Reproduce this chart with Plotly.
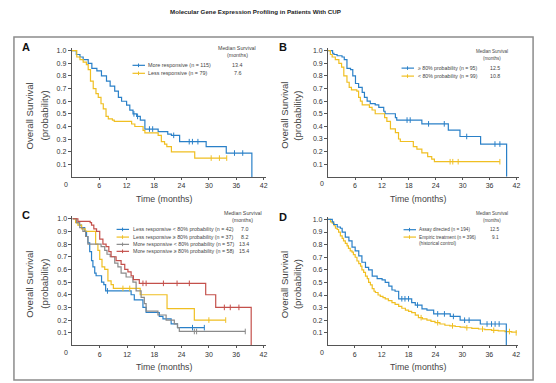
import plotly.graph_objects as go

W, H = 556, 383

TITLE = "Molecular Gene Expression Profiling in Patients With CUP"
X_TICKS = [6, 12, 18, 24, 30, 36, 42]
Y_TICKS = [0.1, 0.2, 0.3, 0.4, 0.5, 0.6, 0.7, 0.8, 0.9, 1.0]
X_TITLE = "Time (months)"
Y_TITLE_1 = "Overall Survival"
Y_TITLE_2 = "(probability)"
MEDIAN_HEAD = ["Median Survival", "(months)"]

# ---------------- Panel A ----------------
A_labels = ["More responsive (n = 115)", "Less responsive (n = 79)"]
A_medians = ["13.4", "7.6"]
A_more_t = [0, 1.0, 1.8, 2.5, 3.6, 4.4, 5.5, 6.5, 7.6, 8.4, 9.4, 10.2, 10.9, 12.0, 12.7, 13.4, 14.2, 15.0, 16.0, 18.9, 21.0, 21.8, 23.6, 29.4, 33.8, 39.4]
A_more_s = [1.0, 0.97, 0.95, 0.93, 0.90, 0.86, 0.84, 0.80, 0.76, 0.72, 0.68, 0.63, 0.60, 0.57, 0.53, 0.50, 0.48, 0.45, 0.38, 0.36, 0.34, 0.33, 0.28, 0.24, 0.19, 0.0]
A_more_cens = [13.6, 14.4, 17.0, 17.7, 22.3, 25.7, 26.4, 27.6, 35.6, 37.4]
A_less_t = [0, 1.1, 1.8, 2.5, 3.2, 3.6, 4.1, 4.7, 5.3, 5.8, 6.4, 6.9, 7.5, 8.0, 8.9, 9.3, 13.1, 13.8, 15.6, 16.0, 18.9, 19.6, 20.3, 20.8, 21.8, 26.9, 33.9]
A_less_s = [1.0, 0.95, 0.93, 0.91, 0.89, 0.85, 0.76, 0.70, 0.66, 0.63, 0.58, 0.54, 0.48, 0.46, 0.45, 0.44, 0.42, 0.40, 0.37, 0.35, 0.33, 0.28, 0.26, 0.24, 0.20, 0.15, 0.15]
A_less_cens = [30.5, 32.3, 33.9]

# ---------------- Panel B ----------------
B_labels = ["\u2265 80% probability (n = 95)", "< 80% probability (n = 99)"]
B_medians = ["12.5", "10.8"]
B_hi_t = [0, 1.0, 1.3, 2.0, 3.1, 3.6, 4.2, 5.0, 5.5, 6.1, 6.8, 7.6, 8.1, 8.7, 9.4, 10.5, 11.3, 12.4, 12.7, 15.0, 15.3, 20.9, 26.8, 29.4, 34.0, 39.8]
B_hi_s = [1.0, 0.98, 0.97, 0.96, 0.95, 0.93, 0.86, 0.85, 0.80, 0.74, 0.71, 0.67, 0.63, 0.60, 0.58, 0.57, 0.55, 0.52, 0.50, 0.47, 0.45, 0.42, 0.37, 0.32, 0.26, 0.0]
B_hi_cens = [17.6, 18.3, 22.4, 25.9, 30.9, 37.2, 38.3]
B_lo_t = [0, 0.5, 0.9, 1.6, 2.4, 3.0, 3.5, 4.2, 4.7, 5.2, 6.4, 6.8, 7.2, 7.6, 9.2, 9.8, 10.5, 12.6, 13.1, 13.9, 15.0, 15.7, 16.1, 19.0, 19.8, 20.9, 22.2, 23.1, 23.7, 38.3]
B_lo_s = [1.0, 0.97, 0.95, 0.93, 0.90, 0.87, 0.80, 0.75, 0.71, 0.69, 0.68, 0.63, 0.60, 0.57, 0.55, 0.53, 0.50, 0.47, 0.44, 0.38, 0.35, 0.30, 0.28, 0.24, 0.22, 0.19, 0.16, 0.14, 0.12, 0.12]
B_lo_cens = [27.2, 27.8, 29.0, 38.3]

# ---------------- Panel C ----------------
C_labels = ["Less responsive < 80% probability (n = 42)",
            "Less responsive \u2265 80% probability (n = 37)",
            "More responsive < 80% probability (n = 57)",
            "More responsive \u2265 80% probability (n = 58)"]
C_medians = ["7.0", "8.2", "13.4", "15.4"]
C_lrlo_t = [0, 0.9, 1.5, 2.0, 2.7, 3.1, 3.4, 3.8, 4.2, 4.5, 4.9, 5.2, 6.4, 6.9, 7.3, 12.9, 13.6, 15.5, 16.2, 19.1, 19.9, 21.7, 23.1, 29.0]
C_lrlo_s = [1.0, 0.97, 0.95, 0.93, 0.90, 0.86, 0.81, 0.74, 0.67, 0.62, 0.57, 0.55, 0.50, 0.48, 0.43, 0.40, 0.36, 0.30, 0.26, 0.23, 0.21, 0.17, 0.14, 0.14]
C_lrlo_cens = [7.7, 26.4, 29.0]
C_lrhi_t = [0, 0.7, 1.2, 2.0, 2.8, 5.1, 5.6, 6.0, 6.5, 7.1, 7.8, 8.5, 9.0, 14.9, 20.8, 26.8, 33.7]
C_lrhi_s = [1.0, 0.97, 0.95, 0.92, 0.90, 0.80, 0.75, 0.68, 0.62, 0.60, 0.51, 0.48, 0.45, 0.40, 0.29, 0.20, 0.20]
C_lrhi_cens = [11.1, 12.6, 30.0, 33.7]
C_mrlo_t = [0, 0.9, 1.6, 2.3, 2.9, 3.4, 6.3, 7.1, 7.6, 8.3, 9.3, 10.0, 10.7, 11.8, 13.3, 14.0, 15.1, 15.8, 16.2, 18.8, 20.6, 22.4, 23.1, 23.5, 38.0]
C_mrlo_s = [1.0, 0.97, 0.93, 0.90, 0.86, 0.80, 0.78, 0.75, 0.72, 0.70, 0.65, 0.62, 0.57, 0.54, 0.50, 0.43, 0.38, 0.33, 0.27, 0.24, 0.20, 0.17, 0.14, 0.11, 0.11]
C_mrlo_cens = [26.8, 27.3, 38.0]
C_mrhi_t = [0, 1.2, 3.9, 4.2, 4.7, 5.3, 6.0, 6.7, 7.4, 8.0, 8.5, 9.6, 10.7, 11.5, 12.2, 12.9, 13.4, 14.7, 29.3, 31.5, 39.3]
C_mrhi_s = [1.0, 0.98, 0.97, 0.95, 0.92, 0.90, 0.84, 0.80, 0.78, 0.74, 0.70, 0.67, 0.64, 0.60, 0.58, 0.55, 0.52, 0.49, 0.40, 0.30, 0.0]
C_mrhi_cens = [15.5, 16.2, 20.0, 23.0, 25.7, 33.4, 34.7, 36.6]

# ---------------- Panel D ----------------
D_labels = ["Assay directed (n = 194)", "Empiric treatment (n = 396)"]
D_label_extra = "(historical control)"
D_medians = ["12.5", "9.1"]
D_assay_t = [0, 1.0, 1.3, 2.1, 2.8, 3.2, 3.9, 4.7, 5.4, 6.1, 6.9, 7.6, 8.4, 9.1, 9.9, 11.0, 12.1, 12.8, 13.6, 14.3, 15.0, 15.8, 18.7, 19.5, 21.0, 22.1, 23.6, 27.3, 29.5, 34.0, 39.8]
D_assay_s = [1.0, 0.98, 0.96, 0.94, 0.93, 0.90, 0.86, 0.83, 0.78, 0.75, 0.71, 0.66, 0.62, 0.60, 0.55, 0.53, 0.52, 0.50, 0.47, 0.44, 0.43, 0.37, 0.34, 0.32, 0.29, 0.28, 0.25, 0.23, 0.20, 0.17, 0.0]
D_assay_cens = [16.5, 17.2, 18.0, 20.0, 24.5, 26.0, 28.0, 30.5, 31.5, 35.5, 36.5, 37.3, 38.2]
D_emp_t = [0, 0.6, 1.0, 1.4, 1.7, 2.1, 2.4, 2.8, 3.2, 3.5, 3.9, 4.3, 4.6, 5.0, 5.4, 5.7, 6.1, 6.5, 6.9, 7.3,
           7.6, 8.0, 8.4, 8.8, 9.1, 9.5, 9.9, 10.3, 10.6, 11.2, 11.7, 12.3, 12.8, 13.5, 14.3, 15.0, 15.8, 16.5, 17.3, 18.0,
           18.7, 19.5, 20.2, 21.1, 22.1, 23.0, 23.9, 25.0, 26.1, 27.2, 28.4, 29.5, 30.6, 32.1, 33.6, 35.0, 36.5, 38.0, 39.5, 41.0, 42.0]
D_emp_s = [1.0, 0.98, 0.97, 0.95, 0.93, 0.92, 0.90, 0.87, 0.85, 0.83, 0.81, 0.79, 0.77, 0.75, 0.74, 0.72, 0.70, 0.67, 0.65, 0.63,
           0.60, 0.58, 0.55, 0.53, 0.50, 0.48, 0.45, 0.43, 0.42, 0.40, 0.39, 0.38, 0.37, 0.355, 0.34, 0.325, 0.31, 0.295, 0.28, 0.27,
           0.26, 0.24, 0.22, 0.21, 0.20, 0.19, 0.18, 0.17, 0.16, 0.155, 0.15, 0.145, 0.14, 0.135, 0.13, 0.125, 0.12, 0.115, 0.11, 0.105, 0.10]
D_emp_cens = [20.8, 24.5, 27.8, 31.0, 34.5, 37.0, 40.5, 42.0]

BLUE = "#2a80c8"
YELLOW = "#f0bf22"
GRAY = "#8a8a8a"
RED = "#c4504b"
FONT = "Liberation Sans, Arial, sans-serif"
TXT = "#333333"


def px(x):
    return x / W


def py(y):
    return 1 - y / H


def surv_at(ts, ss, t):
    v = ss[0]
    for ti, si in zip(ts, ss):
        if ti <= t:
            v = si
    return v


fig = go.Figure()

# panel geometry in pixels: x0/x1 span 0..42.5 months, yb = value 0, yt = value 1.02
PANELS = {
    "A": dict(x0=72, x1=267, yb=176.5, yt=47.3, ax="", t1=-42, t2=-27),
    "B": dict(x0=329.3, x1=520.6, yb=176.3, yt=47.3, ax="2", t1=-44, t2=-31),
    "C": dict(x0=72.7, x1=266.7, yb=345.3, yt=215.8, ax="3", t1=-42.7, t2=-27.7),
    "D": dict(x0=329, x1=520.3, yb=345.3, yt=216.5, ax="4", t1=-44, t2=-31),
}

SERIES = {
    "A": [(A_more_t, A_more_s, A_more_cens, BLUE), (A_less_t, A_less_s, A_less_cens, YELLOW)],
    "B": [(B_hi_t, B_hi_s, B_hi_cens, BLUE), (B_lo_t, B_lo_s, B_lo_cens, YELLOW)],
    "C": [(C_lrlo_t, C_lrlo_s, C_lrlo_cens, BLUE), (C_lrhi_t, C_lrhi_s, C_lrhi_cens, YELLOW),
          (C_mrlo_t, C_mrlo_s, C_mrlo_cens, GRAY), (C_mrhi_t, C_mrhi_s, C_mrhi_cens, RED)],
    "D": [(D_emp_t, D_emp_s, D_emp_cens, YELLOW), (D_assay_t, D_assay_s, D_assay_cens, BLUE)],
}

layout_axes = {}
annotations = []
shapes = []
XTF = dict(size=8.8, color="#444", family=FONT)
YTF = dict(size=9.6, color="#444", family=FONT)

for key, g in PANELS.items():
    ax = g["ax"]
    xa = "x" + ax
    ya = "y" + ax
    for ts, ss, cens, col in SERIES[key]:
        fig.add_trace(go.Scatter(x=ts, y=ss, mode="lines", line=dict(color=col, width=1.2, shape="hv"),
                                 xaxis=xa, yaxis=ya, showlegend=False, hoverinfo="skip"))
        fig.add_trace(go.Scatter(x=cens, y=[surv_at(ts, ss, c) for c in cens], mode="markers",
                                 marker=dict(symbol="line-ns", size=4, line=dict(color=col, width=1)),
                                 xaxis=xa, yaxis=ya, showlegend=False, hoverinfo="skip"))
    layout_axes["xaxis" + ax] = dict(domain=[px(g["x0"]), px(g["x1"])], range=[0, 42.5], anchor=ya,
                                     tickvals=X_TICKS, ticks="outside", ticklen=2, tickcolor="#555",
                                     showline=True, linecolor="#555", linewidth=1, showgrid=False,
                                     zeroline=False, tickfont=dict(size=7, color=TXT, family=FONT))
    layout_axes["yaxis" + ax] = dict(domain=[py(g["yb"]), py(g["yt"])], range=[0, 1.02], anchor=xa,
                                     tickvals=Y_TICKS, tickformat=".1f", ticks="outside", ticklen=3,
                                     tickcolor="#555", showline=True, linecolor="#555", linewidth=1,
                                     showgrid=False, zeroline=False,
                                     tickfont=dict(size=7, color=TXT, family=FONT))
    # origin "0" label
    annotations.append(dict(x=px(g["x0"] - 6), y=py(g["yb"] + 7), xref="paper", yref="paper",
                            text="0", showarrow=False, font=dict(size=7, color=TXT, family=FONT),
                            xanchor="center", yanchor="middle"))
    # axis titles
    annotations.append(dict(x=px((g["x0"] + g["x1"]) / 2 - 5), y=py(g["yb"] + 22), xref="paper", yref="paper",
                            text=X_TITLE, showarrow=False, font=XTF, xanchor="center", yanchor="middle"))
    ymid = (g["yb"] + g["yt"]) / 2 + 3
    annotations.append(dict(x=px(g["x0"] + g["t1"]), y=py(ymid), xref="paper", yref="paper",
                            text=Y_TITLE_1, showarrow=False, textangle=-90, font=YTF,
                            xanchor="center", yanchor="middle"))
    annotations.append(dict(x=px(g["x0"] + g["t2"]), y=py(ymid), xref="paper", yref="paper",
                            text=Y_TITLE_2, showarrow=False, textangle=-90, font=YTF,
                            xanchor="center", yanchor="middle"))

# panel letters
for letter, (lx, ly) in {"A": (26, 46), "B": (284, 46), "C": (26, 215), "D": (284, 217)}.items():
    annotations.append(dict(x=px(lx), y=py(ly), xref="paper", yref="paper", text="<b>%s</b>" % letter,
                            showarrow=False, font=dict(size=11, color="#111", family=FONT),
                            xanchor="center", yanchor="middle"))

# legends (manual)
LEG = {
    "A": dict(lx=133, rows=[64.5, 72.5], labels=A_labels, meds=A_medians, colors=[BLUE, YELLOW],
              hx=238, hy=47.3, mx=238.5, fs=5.4, hs=5.3),
    "B": dict(lx=403, rows=[67.3, 75.3], labels=B_labels, meds=B_medians, colors=[BLUE, YELLOW],
              hx=493.5, hy=50.7, mx=497, fs=5.2, hs=4.5),
    "C": dict(lx=117, rows=[229, 236.7, 244, 251], labels=C_labels, meds=C_medians,
              colors=[BLUE, YELLOW, GRAY, RED], hx=243.5, hy=212.3, mx=245, fs=5.3, hs=5.3),
    "D": dict(lx=405, rows=[229.3, 236.7], labels=D_labels, meds=D_medians, colors=[BLUE, YELLOW],
              hx=493.5, hy=212.7, mx=497, fs=4.7, hs=4.5),
}
for key, L in LEG.items():
    LF = dict(size=L["fs"], color="#444", family=FONT)
    HF = dict(size=L["hs"], color="#444", family=FONT)
    annotations.append(dict(x=px(L["hx"]), y=py(L["hy"]), xref="paper", yref="paper", text=MEDIAN_HEAD[0],
                            showarrow=False, font=HF, xanchor="center", yanchor="middle"))
    annotations.append(dict(x=px(L["hx"]), y=py(L["hy"] + 7.3), xref="paper", yref="paper", text=MEDIAN_HEAD[1],
                            showarrow=False, font=HF, xanchor="center", yanchor="middle"))
    for r, lab, med, col in zip(L["rows"], L["labels"], L["meds"], L["colors"]):
        shapes.append(dict(type="line", xref="paper", yref="paper", x0=px(L["lx"]), x1=px(L["lx"] + 12.5),
                           y0=py(r), y1=py(r), line=dict(color=col, width=1.2)))
        shapes.append(dict(type="line", xref="paper", yref="paper", x0=px(L["lx"] + 6), x1=px(L["lx"] + 6),
                           y0=py(r - 1.8), y1=py(r + 1.8), line=dict(color=col, width=1)))
        annotations.append(dict(x=px(L["lx"] + 14), y=py(r), xref="paper", yref="paper", text=lab,
                                showarrow=False, font=LF, xanchor="left", yanchor="middle"))
        annotations.append(dict(x=px(L["mx"]), y=py(r), xref="paper", yref="paper", text=med,
                                showarrow=False, font=LF, xanchor="center", yanchor="middle"))
annotations.append(dict(x=px(405 + 14), y=py(243.3), xref="paper", yref="paper", text=D_label_extra,
                        showarrow=False, font=dict(size=4.7, color="#444", family=FONT),
                        xanchor="left", yanchor="middle"))

# title
annotations.append(dict(x=px(256), y=py(11), xref="paper", yref="paper", text="<b>%s</b>" % TITLE,
                        showarrow=False, font=dict(size=6.2, color="#222", family=FONT),
                        xanchor="center", yanchor="middle"))

# outer frame
shapes.append(dict(type="rect", xref="paper", yref="paper", x0=px(14), x1=px(535), y0=py(380), y1=py(36),
                   line=dict(color="#8c8c8c", width=1.5), layer="below"))

fig.update_layout(width=W, height=H, margin=dict(l=0, r=0, t=0, b=0), paper_bgcolor="white",
                  plot_bgcolor="white", showlegend=False, annotations=annotations, shapes=shapes,
                  font=dict(family=FONT), **layout_axes)

fig.write_html("out.html", config={"displayModeBar": False},
               post_script="document.body.style.margin='0px';document.body.style.overflow='hidden';")
